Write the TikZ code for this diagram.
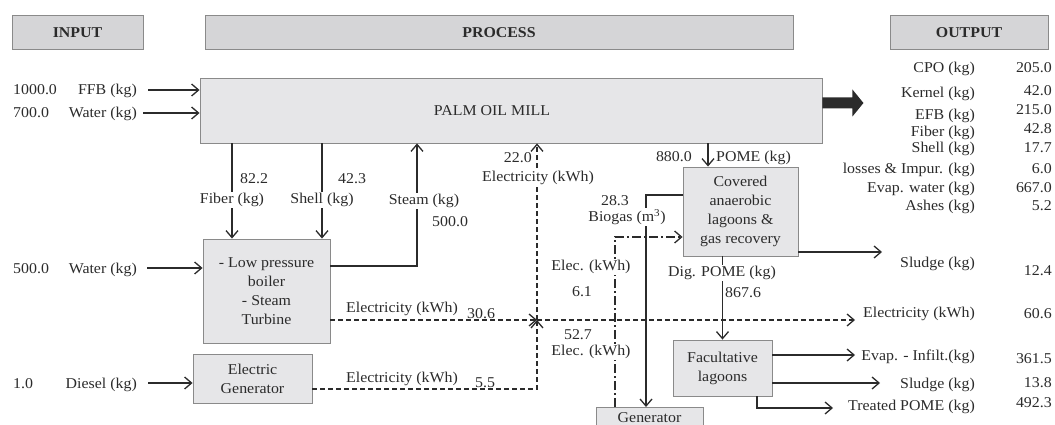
\documentclass[tikz,border=0pt]{standalone}
\usepackage{fontspec}
\setmainfont{Liberation Serif}[FakeStretch=1.06]
\usetikzlibrary{arrows.meta}
\definecolor{ink}{HTML}{2B2B2B}
\definecolor{boxline}{HTML}{8A8A8A}
\definecolor{boxfill}{HTML}{E6E6E8}
\definecolor{headfill}{HTML}{D5D5D7}
\newcommand\diagfont{\fontsize{15}{19}\selectfont}
\tikzset{
  box/.style={draw=boxline, fill=boxfill, line width=0.9pt, inner sep=0pt,
    align=center, text=ink, font=\diagfont},
  headbox/.style={draw=boxline, fill=headfill, line width=1pt, inner sep=0pt,
    text=ink, font=\diagfont\bfseries, minimum height=34pt},
  txt/.style={inner sep=0pt, text=ink, font=\diagfont},
  mask/.style={txt, fill=white, inner sep=1.5pt},
  pipe/.style={draw=ink, line width=1.3pt},
  flow/.style={pipe, -{Straight Barb[length=7pt,width=12pt,line width=1.3pt]}},
  elec/.style={flow, dash pattern=on 5pt off 3pt},
  elecdd/.style={flow, dash pattern=on 9pt off 3pt on 2pt off 3pt},
}
\begin{document}
\begin{tikzpicture}[x=1pt,y=-1pt]
\useasboundingbox (0,0) rectangle (1055,425);
\clip (0,0) rectangle (1055,425);

% column headers
\node[headbox, minimum width=131pt] (hin)  at (77.5,33) {INPUT};
\node[headbox, minimum width=588pt] (hpro) at (499,33)  {PROCESS};
\node[headbox, minimum width=158pt] (hout) at (969,33)  {OUTPUT};

% process units
\node[box, minimum width=622pt, minimum height=65pt] (mill) at (511,110.5) {\hspace*{-38pt}PALM OIL MILL};
\node[box, minimum width=127pt, minimum height=104pt] (boiler) at (266.5,291) {- Low pressure\\boiler\\- Steam\\Turbine};
\node[box, minimum width=119pt, minimum height=49pt] (egen) at (252.5,378.5) {Electric\\Generator};
\node[box, minimum width=115pt, minimum height=89pt] (lagoon) at (740.5,211.5) {Covered\\anaerobic\\lagoons \&\\gas recovery};
\node[box, minimum width=99pt, minimum height=56pt] (fac) at (722.5,368) {Facultative\\lagoons};
\node[box, anchor=north, minimum width=107pt, inner ysep=5pt, text height=10pt, text depth=3pt] (gen2) at (649.5,407) {Generator};

% inputs
\node[txt, anchor=base west] (vffb) at (13,95) {1000.0};
\node[txt, anchor=base east] (tffb) at (137,95) {FFB (kg)};
\node[txt, anchor=base west] (vw1) at (13,118) {700.0};
\node[txt, anchor=base east] (tw1) at (137,118) {Water (kg)};
\node[txt, anchor=base west] (vw2) at (13,273) {500.0};
\node[txt, anchor=base east] (tw2) at (137,273) {Water (kg)};
\node[txt, anchor=base west] (vdie) at (13,388) {1.0};
\node[txt, anchor=base east] (tdie) at (137,388) {Diesel (kg)};

\coordinate (inffb) at (148,90);
\coordinate (inw1) at (143,113);
\coordinate (inw2) at (147,268);
\coordinate (indie) at (148,383);
\draw[flow] (inffb) -- (inffb -| mill.west);
\draw[flow] (inw1) -- (inw1 -| mill.west);
\draw[flow] (inw2) -- (inw2 -| boiler.west);
\draw[flow] (indie) -- (indie -| egen.west);

% fiber, shell and steam between mill and boiler
\coordinate (fibx) at (232,0);
\coordinate (shlx) at (322,0);
\coordinate (stm) at (417,266);
\draw[flow] (fibx |- mill.south) -- (fibx |- boiler.north);
\draw[flow] (shlx |- mill.south) -- (shlx |- boiler.north);
\draw[flow] (stm -| boiler.east) -- (stm) -- (stm |- mill.south);
\node[mask] (lfib) at (232,200) {Fiber (kg)};
\node[txt, anchor=base west] (vfib) at (240,183) {82.2};
\node[mask] (lshl) at (322,200) {Shell (kg)};
\node[txt, anchor=base west] (vshl) at (338,183) {42.3};
\node[mask] (lstm) at (424,201) {Steam (kg)};
\node[txt, anchor=base west] (vstm) at (432,226) {500.0};

% electricity network
\coordinate (junc) at (537,320);
\coordinate (egl) at (537,389);
\coordinate (elout) at (855,320);
\draw[elec] (junc -| boiler.east) -- (junc);
\draw[elec] (egl -| egen.east) -- (egl) -- (junc);
\draw[elec] (junc) -- (junc |- mill.south);
\draw[elec] (junc) -- (elout);
\node[txt] (lelb) at (402,309) {Electricity (kWh)};
\node[txt, anchor=base west] (velb) at (467,318) {30.6};
\node[txt] (lelg) at (402,379) {Electricity (kWh)};
\node[txt, anchor=base west] (velg) at (475,387) {5.5};
\node[mask] (lelm) at (538,178) {Electricity (kWh)};
\node[txt, anchor=base east] (velm) at (532,162) {22.0};

% POME treatment line
\coordinate (pomex) at (708,0);
\draw[flow] (pomex |- mill.south) -- (pomex |- lagoon.north);
\node[txt, anchor=base east] (vpome) at (692,161) {880.0};
\node[txt, anchor=base west] (lpome) at (716,161) {POME (kg)};

\coordinate (bgt) at (646,195);
\draw[flow] (bgt -| lagoon.west) -- (bgt) -- (bgt |- gen2.north);
\coordinate (elt) at (615,237);
\draw[elecdd] (elt |- gen2.north) -- (elt) -- (elt -| lagoon.west);
\node[txt, anchor=base] (vbg) at (615,205) {28.3};
\node[mask] (lbg) at (627,217) {Biogas (m\textsuperscript{3})};
\node[mask] (lelg1) at (591,267) {Elec. (kWh)};
\node[txt] (velg1) at (582,292) {6.1};
\node[txt] (velg2) at (578,335) {52.7};
\node[mask] (lelg2) at (591,352) {Elec. (kWh)};

\draw[flow] (lagoon.south -| fac.north) -- (fac.north);
\node[mask] (ldig) at (722,273) {Dig. POME (kg)};
\node[txt, anchor=base west] (vdig) at (725,297) {867.6};

\coordinate (sl1) at (882,252);
\draw[flow] (sl1 -| lagoon.east) -- (sl1);
\coordinate (evi) at (855,355);
\draw[flow] (evi -| fac.east) -- (evi);
\coordinate (sl2) at (880,383);
\draw[flow] (sl2 -| fac.east) -- (sl2);
\coordinate (trx) at (757,408);
\coordinate (tre) at (833,408);
\draw[flow] (trx |- fac.south) -- (trx) -- (tre);

% main product arrow
\coordinate (bigA) at ([yshift=7.5pt]mill.east);
\fill[ink] (bigA) ++(0,-5.5) -- ++(30,0) -- ++(0,-8) -- ++(11,13.5)
  -- ++(-11,13.5) -- ++(0,-8) -- ++(-30,0) -- cycle;

% outputs
\foreach \nm/\lab/\val/\yl/\yv in {
  o1/CPO (kg)/205.0/73/73,
  o2/Kernel (kg)/42.0/98/96,
  o3/EFB (kg)/215.0/120/115,
  o4/Fiber (kg)/42.8/137/134,
  o5/Shell (kg)/17.7/153/153,
  o6/losses \& Impur. (kg)/6.0/173/173,
  o7/Evap. water (kg)/667.0/193/193,
  o8/Ashes (kg)/5.2/210/210,
  o9/Sludge (kg)/12.4/267/275,
  o10/Electricity (kWh)/60.6/317/318,
  o11/Evap. - Infilt.(kg)/361.5/360/363,
  o12/Sludge (kg)/13.8/388/387,
  o13/Treated POME (kg)/492.3/410/407}{
  \node[txt, anchor=base east] (\nm l) at (975,\yl) {\lab};
  \node[txt, anchor=base east] (\nm v) at (1052,\yv) {\val};
}
\end{tikzpicture}
\end{document}
